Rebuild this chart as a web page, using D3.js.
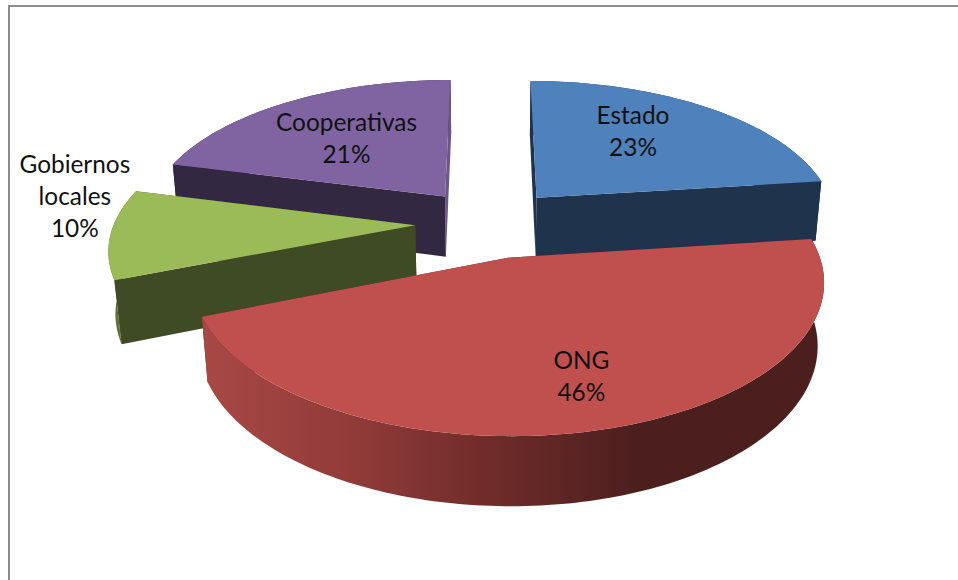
<!DOCTYPE html>
<html>
<head>
<meta charset="utf-8">
<script src="https://cdn.jsdelivr.net/npm/d3@7"></script>
<style>
  html, body { margin: 0; background: #fff; overflow: hidden; }
  text { font-family: Lato, "Open Sans", sans-serif; fill: #111; }
</style>
</head>
<body>
<script>
const width = 958;
const height = 580;

const categorias = ["Estado", "ONG", "Gobiernos locales", "Cooperativas"];
const valores = [23, 46, 10, 21];
const lineasEtiqueta = [["Estado", "23%"], ["ONG", "46%"], ["Gobiernos", "locales", "10%"], ["Cooperativas", "21%"]];

const colorTapa = ["#4f81bd", "#c0504d", "#9bbb59", "#8064a2"];
const colorCorte = ["#1f344c", "#4d201f", "#3f4b24", "#332841"];
const colorCorteFin = ["#1f344c", "#4d201f", "#3f4b24", "#6b5689"];
const colorPared = ["#1f344c", "url(#pared-ong)", "#5d7335", "#332841"];
const ordenDibujo = ["Cooperativas", "Estado", "Gobiernos locales", "ONG"];

// camara: pastel visto desde arriba con perspectiva
const centro = { x: 489, y: 223 };
const radio = 301;
const alto = 0.235;
const separacion = 0.245;
const inclinacion = 0.468;
const distancia = 6;

// posicion de cada etiqueta: radio relativo y ajuste en pixeles
const posEtiqueta = [
  { r: 0.5, dx: 7, dy: -26 },
  { r: 0.5, dx: 30, dy: 32 },
  { r: 1.1, dx: -5, dy: -62 },
  { r: 0.5, dx: -16, dy: -16 },
];

const svg = d3
  .select("body")
  .append("svg")
  .attr("width", width)
  .attr("height", height)
  .style("display", "block");

svg
  .append("path")
  .attr("d", d3.line()([[9, height], [9, 6], [width, 6]]))
  .attr("fill", "none")
  .attr("stroke", "#8c8c8c")
  .attr("stroke-width", 2);

const defs = svg.append("defs");
const gradiente = defs
  .append("linearGradient")
  .attr("id", "pared-ong")
  .attr("gradientUnits", "userSpaceOnUse")
  .attr("x1", 205)
  .attr("x2", 825)
  .attr("y1", 0)
  .attr("y2", 0);
[
  [0, "#a84845"],
  [0.24, "#913b39"],
  [0.44, "#722d2b"],
  [0.7, "#4b1f1e"],
  [1, "#4b1f1e"],
].forEach((s) => gradiente.append("stop").attr("offset", s[0]).attr("stop-color", s[1]));

// mundo -> pantalla
function proyectar(X, Y, Z) {
  const sen = inclinacion;
  const cos = Math.sqrt(1 - sen * sen);
  const u = -Y * sen + Z * cos;
  const w = Y * cos + Z * sen;
  const s = distancia / (distancia - w);
  return [centro.x + radio * X * s, centro.y - radio * u * s];
}

const pie = d3.pie().sort(null).value((d) => d.valor);
const porciones = pie(categorias.map((nombre, i) => ({ nombre, valor: valores[i], i })));

function puntoPorcion(p, r, angulo, Z) {
  const medio = (p.startAngle + p.endAngle) / 2;
  const ox = separacion * Math.sin(medio);
  const oy = -separacion * Math.cos(medio);
  return proyectar(ox + r * Math.sin(angulo), oy - r * Math.cos(angulo), Z);
}

function arco(p, Z) {
  const pasos = Math.ceil((p.endAngle - p.startAngle) / 0.02);
  return d3.range(pasos + 1).map((k) => {
    const a = p.startAngle + ((p.endAngle - p.startAngle) * k) / pasos;
    return puntoPorcion(p, 1, a, Z);
  });
}

const linea = d3.line();
const ordenadas = ordenDibujo.map((n) => porciones.find((p) => p.data.nombre === n));

const grupos = svg
  .selectAll("g.porcion")
  .data(ordenadas)
  .join("g")
  .attr("class", "porcion");

grupos.each(function (p) {
  const g = d3.select(this);
  const i = p.data.i;
  const base = arco(p, -alto);
  const tapa = arco(p, 0);
  const apice = puntoPorcion(p, 0, 0, 0);
  const apiceBase = puntoPorcion(p, 0, 0, -alto);

  const pared = () =>
    g.append("path")
      .attr("d", linea(tapa.concat(base.slice().reverse())) + "Z")
      .attr("fill", colorPared[i]);

  // la pared de ONG da al frente, va encima de sus cortes; las demas detras
  if (p.data.nombre !== "ONG") pared();

  // caras de corte
  g.append("path")
    .attr("d", linea([apice, tapa[tapa.length - 1], base[base.length - 1], apiceBase]) + "Z")
    .attr("fill", colorCorteFin[i]);
  g.append("path")
    .attr("d", linea([apice, tapa[0], base[0], apiceBase]) + "Z")
    .attr("fill", colorCorte[i]);

  if (p.data.nombre === "ONG") pared();

  // tapa
  g.append("path")
    .attr("d", linea([apice].concat(tapa)) + "Z")
    .attr("fill", colorTapa[i]);
});

const etiquetas = svg
  .selectAll("text.etiqueta")
  .data(porciones)
  .join("text")
  .attr("class", "etiqueta")
  .attr("text-anchor", "middle")
  .attr("font-size", 24.4);

etiquetas.each(function (p) {
  const i = p.data.i;
  const medio = (p.startAngle + p.endAngle) / 2;
  const pos = puntoPorcion(p, posEtiqueta[i].r, medio, 0);
  const x = pos[0] + posEtiqueta[i].dx;
  const y = pos[1] + posEtiqueta[i].dy;
  d3.select(this)
    .selectAll("tspan")
    .data(lineasEtiqueta[i])
    .join("tspan")
    .attr("x", x)
    .attr("y", (d, k) => y + k * 32)
    .text((d) => d);
});
</script>
</body>
</html>
